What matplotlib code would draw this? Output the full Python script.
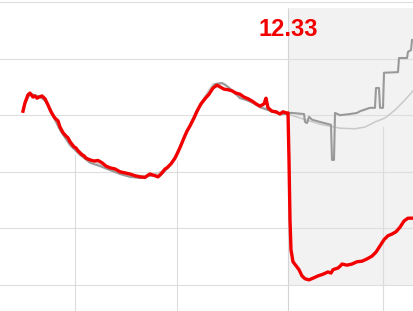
import matplotlib
matplotlib.use("Agg")
import matplotlib.pyplot as plt
import numpy as np

# values (t = time index, value on the y scale)
red_t = [23, 25, 28, 30, 33, 35, 37, 39, 42, 45, 48, 51, 54, 56, 58, 60, 63, 66, 68, 70,
         74, 76, 78, 82, 84, 86, 90, 94, 98, 102, 106, 110, 115, 120, 125, 130, 135, 140,
         145, 148, 150, 155, 158, 162, 165, 167, 171, 175, 178, 181, 184, 187, 190, 194,
         197, 201, 205, 209, 213, 217, 220, 224, 228, 232, 236, 240, 244, 248, 252, 256,
         260, 264, 266, 268, 272, 276, 280, 283, 286, 288, 289, 290, 291, 293, 296, 299,
         302, 305, 309, 313, 318, 323, 328, 331, 333, 338, 340, 342, 347, 352, 357, 362,
         367, 372, 376, 380, 384, 388, 392, 396, 400, 404, 408, 414]
red_v = [13.07, 13.22, 13.36, 13.39, 13.32, 13.34, 13.30, 13.32, 13.34, 13.29, 13.18, 13.06,
         12.97, 12.93, 12.90, 12.79, 12.69, 12.63, 12.60, 12.53, 12.44, 12.42, 12.37, 12.30,
         12.28, 12.24, 12.21, 12.19, 12.20, 12.16, 12.10, 12.07, 12.05, 12.00, 11.98, 11.96,
         11.93, 11.91, 11.90, 11.94, 11.96, 11.93, 11.91, 11.98, 12.05, 12.07, 12.14, 12.24,
         12.35, 12.47, 12.60, 12.72, 12.81, 12.95, 13.07, 13.20, 13.29, 13.37, 13.48, 13.53,
         13.50, 13.46, 13.45, 13.43, 13.39, 13.37, 13.32, 13.29, 13.25, 13.20, 13.16, 13.20,
         13.30, 13.13, 13.07, 13.06, 13.02, 13.06, 13.04, 13.04, 12.21, 11.15, 10.62, 10.41,
         10.34, 10.27, 10.16, 10.11, 10.09, 10.12, 10.16, 10.19, 10.23, 10.21, 10.27, 10.30,
         10.33, 10.37, 10.35, 10.37, 10.41, 10.42, 10.46, 10.51, 10.58, 10.69, 10.80, 10.87,
         10.90, 10.94, 11.02, 11.13, 11.18, 11.18]

gray_t = [23, 28, 32, 40, 46, 52, 60, 70, 80, 90, 100, 110, 120, 130, 140, 150, 160, 168,
          175, 182, 190, 200, 210, 215, 222, 228, 234, 240, 246, 252, 260, 268, 276, 284,
          288, 292, 304, 305, 307, 309, 312, 320, 331, 332, 334, 335, 340, 350, 357, 360,
          370, 375, 376, 379, 380, 383, 384, 398, 399, 407, 408, 411, 412, 414]
gray_v = [13.11, 13.34, 13.37, 13.32, 13.25, 13.02, 12.74, 12.47, 12.30, 12.16, 12.10, 12.03,
          11.96, 11.91, 11.89, 11.93, 11.93, 12.07, 12.26, 12.51, 12.81, 13.16, 13.41, 13.55,
          13.57, 13.50, 13.41, 13.30, 13.27, 13.23, 13.14, 13.09, 13.04, 13.02, 13.04, 13.04,
          13.02, 12.88, 12.86, 12.97, 12.92, 12.88, 12.83, 12.21, 12.21, 13.04, 13.00, 13.02,
          13.04, 13.07, 13.13, 13.13, 13.48, 13.48, 13.13, 13.13, 13.75, 13.76, 14.01, 14.01,
          14.12, 14.15, 14.33, 14.33]

norm_t = [23, 30, 40, 50, 60, 75, 90, 110, 130, 150, 165, 175, 185, 195, 205, 213, 225, 235,
          250, 265, 280, 288, 300, 320, 340, 355, 365, 375, 385, 395, 405, 414]
norm_v = [13.13, 13.36, 13.34, 13.13, 12.79, 12.44, 12.21, 12.05, 11.94, 11.93, 12.03, 12.24,
          12.65, 13.04, 13.34, 13.55, 13.55, 13.37, 13.23, 13.13, 13.04, 13.02, 12.95, 12.84,
          12.77, 12.76, 12.79, 12.88, 12.95, 13.09, 13.27, 13.45]

grid_y = [10, 11, 12, 13, 14, 15]
grid_t = [75, 177, 383]
split_t = 288
label = "12.33"

fig = plt.figure(figsize=(4.14, 3.11), dpi=100)
ax = fig.add_axes([0, 0, 1, 1])
ax.set_xlim(0, 414)
ax.set_ylim(9.54, 15.035)
ax.axis("off")

# shaded forecast area
shade_top = 14.89
ax.fill_between([split_t, 414], grid_y[0], shade_top, color="#f2f2f2", lw=0, zorder=0)
ax.vlines(split_t, 9.54, shade_top, color="#d4d4d4", lw=0.8, zorder=1)

for y in grid_y:
    ax.axhline(y, color="#dedede", lw=0.8, zorder=1)
# vertical grid only below the normal curve
tops = np.interp(grid_t, norm_t, norm_v) - 0.12
ax.vlines(grid_t, 9.54, tops, color="#dcdcdc", lw=0.8, zorder=1)

ax.plot(norm_t, norm_v, color="#c9c9c9", lw=1.1, zorder=2)
ax.plot(gray_t, gray_v, color="#999999", lw=1.5, zorder=3)
ax.plot(red_t, red_v, color="#f20000", lw=2.4, zorder=4, solid_joinstyle="round")

ax.text(split_t, 14.51, label, color="#f20000", fontsize=17, fontweight="bold",
        family="Liberation Sans", ha="center", va="center", zorder=5)

fig.savefig("out.png", dpi=100)
